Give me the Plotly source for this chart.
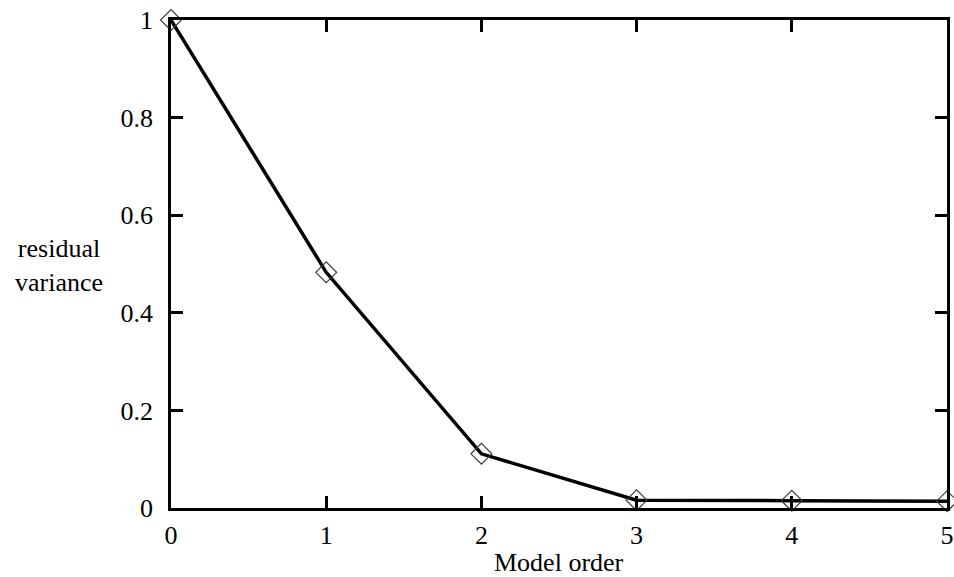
import plotly.graph_objects as go

model_order = [0, 1, 2, 3, 4, 5]
residual_variance = [1.0, 0.483, 0.111, 0.016, 0.015, 0.014]
x_ticks = [0, 1, 2, 3, 4, 5]
y_ticks = [0, 0.2, 0.4, 0.6, 0.8, 1]
y_tick_labels = ["0", "0.2", "0.4", "0.6", "0.8", "1"]

FONT = "Liberation Serif"
FS = 26

# reference plot area (in window pixels)
L, R, T, B = 171, 947, 20, 508
W, H = 954, 577

fig = go.Figure()
fig.add_trace(go.Scatter(
    x=model_order, y=residual_variance, mode="lines+markers",
    line=dict(color="black", width=3.5),
    marker=dict(symbol="diamond-open", size=16, color="#3a3a3a", line=dict(width=1.2)),
    showlegend=False, cliponaxis=False,
))

axis_common = dict(
    showline=True, linecolor="black", linewidth=2.5, mirror="ticks",
    ticks="inside", ticklen=12, tickwidth=2.5, tickcolor="black",
    showgrid=False, zeroline=False, ticklabeloverflow="allow", automargin=False,
    tickfont=dict(family=FONT, size=FS, color="black"),
)

fig.update_xaxes(range=[0, 5], tickvals=x_ticks, ticklabelstandoff=2, **axis_common)
fig.update_yaxes(range=[0, 1], tickvals=y_ticks, ticktext=y_tick_labels,
                 ticklabelstandoff=10, **axis_common)

fig.add_annotation(text="Model order", xref="paper", yref="paper",
                   x=(559 - L) / (R - L), y=-(562 - B) / (B - T),
                   showarrow=False, font=dict(family=FONT, size=FS, color="black"),
                   xanchor="center", yanchor="middle")
fig.add_annotation(text="residual<br>variance", xref="paper", yref="paper",
                   x=-(L - 59) / (R - L), y=(B - 265) / (B - T),
                   showarrow=False, font=dict(family=FONT, size=FS, color="black"),
                   xanchor="center", yanchor="middle", align="center")

fig.update_layout(
    width=W, height=H,
    margin=dict(l=L, r=W - R, t=T, b=H - B, autoexpand=False),
    plot_bgcolor="white", paper_bgcolor="white",
)

fig.write_html(
    "out.html",
    config={"displayModeBar": False},
    post_script="document.body.style.margin='0';document.body.style.overflow='hidden';",
)
